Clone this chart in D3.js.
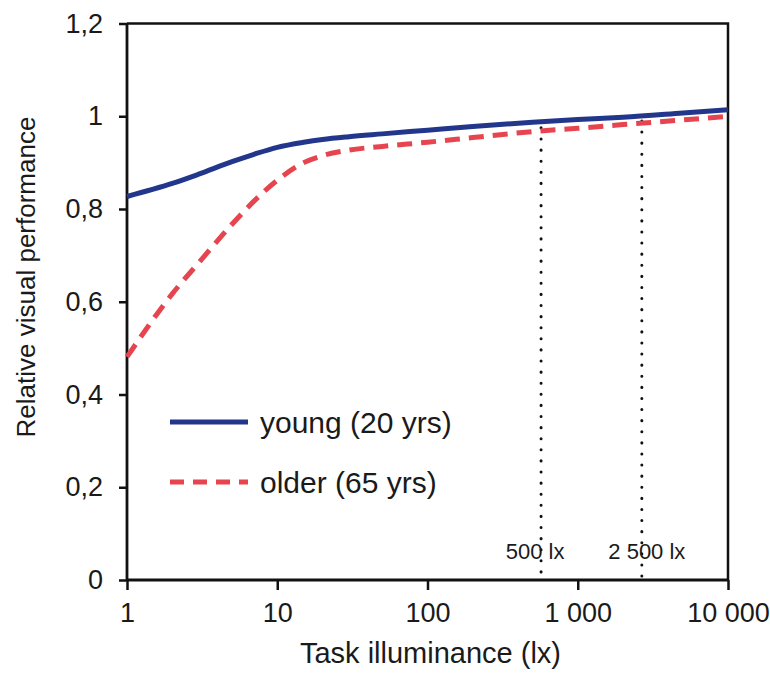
<!DOCTYPE html>
<html>
<head>
<meta charset="utf-8">
<script src="https://cdn.jsdelivr.net/npm/d3@7"></script>
<style>
  body { margin: 0; background: #fff; }
  text { font-family: "Liberation Sans", Arial, sans-serif; fill: #1a1a1a; }
</style>
</head>
<body>
<script>
// Data
let lux = [1, 2, 3, 5, 7, 10, 15, 20, 30, 50, 100, 200, 500, 1000, 2000, 5000, 10000];
let young = [0.827, 0.855, 0.875, 0.902, 0.918, 0.933, 0.944, 0.950, 0.956, 0.962, 0.970, 0.978, 0.987, 0.993, 0.998, 1.007, 1.014];
let older = [0.481, 0.617, 0.684, 0.767, 0.817, 0.862, 0.900, 0.915, 0.927, 0.935, 0.944, 0.954, 0.967, 0.974, 0.982, 0.992, 1.000];

let xTicks = [1, 10, 100, 1000, 10000];
let xTickLabels = ["1", "10", "100", "1 000", "10 000"];
let yTicks = [0, 0.2, 0.4, 0.6, 0.8, 1, 1.2];
let yTickLabels = ["0", "0,2", "0,4", "0,6", "0,8", "1", "1,2"];

// reference lines (position as drawn in the figure)
let markerLux = [570, 2670];
let markerTop = [0.975, 0.99];
let markerLabels = ["500 lx", "2 500 lx"];

let seriesNames = ["young (20 yrs)", "older (65 yrs)"];
let seriesColors = ["#22378c", "#e6454f"];

// Define SVG dimensions
let svgWidth = 770;
let svgHeight = 677;
let margin = { top: 23.5, right: 42, bottom: 97, left: 127 };
let chartWidth = svgWidth - margin.left - margin.right;
let chartHeight = svgHeight - margin.top - margin.bottom;

let svg = d3.select("body")
            .append("svg")
            .attr("width", svgWidth)
            .attr("height", svgHeight);
let chartGroup = svg.append("g")
                    .attr("transform", `translate(${margin.left}, ${margin.top})`);

// scales
let xScale = d3.scaleLog().domain([1, 10000]).range([0, chartWidth]);
let yScale = d3.scaleLinear().domain([0, 1.2]).range([chartHeight, 0]);

// frame (top + right)
chartGroup.append("path")
          .attr("d", `M0,0H${chartWidth}V${chartHeight}`)
          .attr("fill", "none")
          .attr("stroke", "#111")
          .attr("stroke-width", 2.5);

// axes
let xAxis = d3.axisBottom(xScale)
              .tickValues(xTicks)
              .tickFormat((d, i) => xTickLabels[i])
              .tickSize(10)
              .tickPadding(13);
let yAxis = d3.axisLeft(yScale)
              .tickValues(yTicks)
              .tickFormat((d, i) => yTickLabels[i])
              .tickSize(8)
              .tickPadding(16);

let gx = chartGroup.append("g").attr("transform", `translate(0, ${chartHeight})`).call(xAxis);
let gy = chartGroup.append("g").call(yAxis);
[gx, gy].forEach(g => {
    g.select(".domain").attr("stroke", "#111").attr("stroke-width", 2.8);
    g.selectAll(".tick line").attr("stroke", "#111").attr("stroke-width", 2.5);
    g.selectAll(".tick text").style("font-size", "27px").attr("fill", "#1a1a1a");
});
gy.select(".domain").attr("d", `M0,${chartHeight + 0.5}V0`);
gx.select(".domain").attr("d", `M0,0H${chartWidth}`);

// dotted reference lines
markerLux.forEach((v, i) => {
    chartGroup.append("line")
              .attr("x1", xScale(v)).attr("x2", xScale(v))
              .attr("y1", yScale(markerTop[i])).attr("y2", yScale(0))
              .attr("stroke", "#111")
              .attr("stroke-width", 3)
              .attr("stroke-linecap", "round")
              .attr("stroke-dasharray", "0.1,11");
    chartGroup.append("text")
              .attr("x", xScale(v) + (i == 0 ? -6 : 5))
              .attr("y", yScale(0) - 21)
              .attr("text-anchor", "middle")
              .style("font-size", "22px")
              .text(markerLabels[i]);
});

// curves
let line = d3.line()
             .x((d, i) => xScale(lux[i]))
             .y(d => yScale(d))
             .curve(d3.curveMonotoneX);

chartGroup.append("path")
          .attr("d", line(older))
          .attr("fill", "none")
          .attr("stroke", seriesColors[1])
          .attr("stroke-width", 5)
          .attr("stroke-dasharray", "15,9");
chartGroup.append("path")
          .attr("d", line(young))
          .attr("fill", "none")
          .attr("stroke", seriesColors[0])
          .attr("stroke-width", 5);

// legend
let legend = svg.append("g").attr("transform", "translate(170, 422)");
seriesNames.forEach((name, i) => {
    let row = legend.append("g").attr("transform", `translate(0, ${i * 60})`);
    row.append("line")
       .attr("x1", 0).attr("x2", 78)
       .attr("stroke", seriesColors[i])
       .attr("stroke-width", 5)
       .attr("stroke-dasharray", i == 1 ? "14,9" : null);
    row.append("text")
       .attr("x", 90)
       .attr("y", 11)
       .style("font-size", "30px")
       .text(name);
});

// axis titles
svg.append("text")
   .attr("x", margin.left + chartWidth / 2 + 3)
   .attr("y", 663)
   .attr("text-anchor", "middle")
   .style("font-size", "29px")
   .text("Task illuminance  (lx)");
svg.append("text")
   .attr("transform", "translate(35, 277) rotate(-90)")
   .attr("text-anchor", "middle")
   .style("font-size", "26px")
   .text("Relative visual performance");
</script>
</body>
</html>
